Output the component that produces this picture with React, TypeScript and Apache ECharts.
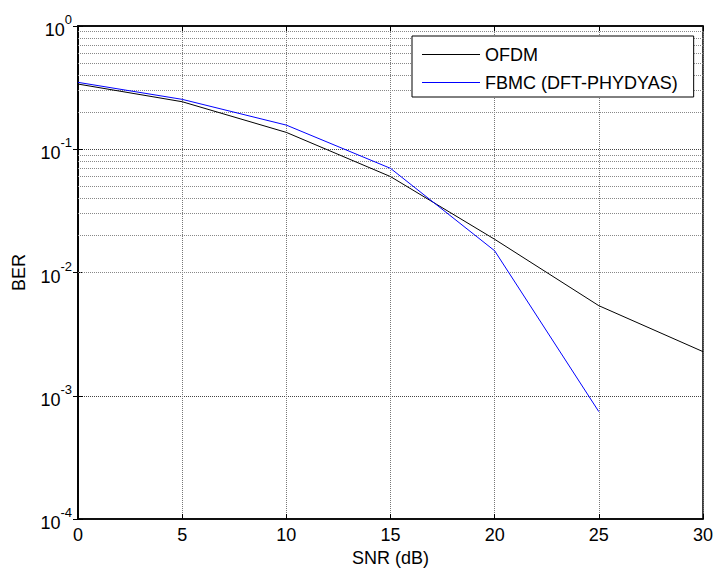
import React, { useEffect, useRef } from "react";
import * as echarts from "echarts";

const snr = [0, 5, 10, 15, 20, 25, 30];
const ofdmBer = [0.338, 0.243, 0.137, 0.06, 0.0186, 0.00538, 0.00228];
const fbmcBer = [0.349, 0.254, 0.157, 0.07, 0.015, 0.000743];
const seriesNames = ["OFDM", "FBMC (DFT-PHYDYAS)"];
const seriesColors = ["#000000", "#0000ff"];
const yExponents = ["0", "-1", "-2", "-3", "-4"];

const FONT = "Liberation Sans, Arial, sans-serif";

const minorGrid: number[] = [];
for (let e = -4; e < 0; e++) {
  for (let m = 2; m <= 9; m++) minorGrid.push(m * Math.pow(10, e));
}

function expLabel(v: number) {
  const e = Math.round(Math.log10(v));
  const s = yExponents.find((x) => Number(x) === e) ?? String(e);
  return `{b|10}{s|${s}}`;
}

export default function App() {
  const ref = useRef<HTMLDivElement>(null);
  useEffect(() => {
    if (!ref.current) return;
    const chart = echarts.init(ref.current, undefined, { renderer: "svg" });
    const grid = { left: 78, right: 13, top: 26, bottom: 53 };
    chart.setOption({
      animation: false,
      backgroundColor: "#fff",
      color: seriesColors,
      textStyle: { fontFamily: FONT },
      grid: { ...grid, show: true, borderColor: "#000", borderWidth: 1.5, backgroundColor: "transparent" },
      legend: {
        orient: "vertical",
        left: 412,
        top: 36,
        padding: [9, 16, 5, 10],
        icon: "rect",
        itemWidth: 58,
        itemHeight: 1,
        itemGap: 9,
        backgroundColor: "#fff",
        borderColor: "#000",
        borderWidth: 1,
        borderRadius: 0,
        textStyle: { fontSize: 18, color: "#000", fontFamily: FONT, lineHeight: 19 },
        data: seriesNames.map((n, i) => ({ name: n, itemStyle: { color: seriesColors[i] } })),
      },
      xAxis: [
        {
          type: "value",
          min: 0,
          max: 30,
          interval: 5,
          name: "SNR (dB)",
          nameLocation: "middle",
          nameGap: 29,
          nameTextStyle: { fontSize: 18, color: "#000", fontFamily: FONT },
          axisLine: { show: true, onZero: false, lineStyle: { color: "#000", width: 1.5 } },
          axisTick: { show: true, inside: true, length: 5, lineStyle: { color: "#000" } },
          axisLabel: { fontSize: 18, color: "#000", margin: 7, fontFamily: FONT },
          splitLine: { show: true, lineStyle: { color: "#777", type: "dotted", width: 1 } },
        },
        {
          type: "value",
          position: "top",
          min: 0,
          max: 30,
          interval: 5,
          axisLine: { show: true, lineStyle: { color: "#000", width: 1.5 } },
          axisTick: { show: true, inside: true, length: 5, lineStyle: { color: "#000" } },
          axisLabel: { show: false },
          splitLine: { show: false },
        },
      ],
      yAxis: [
        {
          type: "log",
          logBase: 10,
          min: 1e-4,
          max: 1,
          name: "BER",
          nameLocation: "middle",
          nameRotate: 90,
          nameGap: 50,
          nameTextStyle: { fontSize: 18, color: "#000", fontFamily: FONT },
          axisLine: { show: true, onZero: false, lineStyle: { color: "#000", width: 1.5 } },
          axisTick: { show: true, inside: true, length: 5, lineStyle: { color: "#000" } },
          axisLabel: {
            color: "#000",
            margin: 6,
            formatter: (v: number) => expLabel(v),
            rich: {
              b: { fontSize: 18, fontFamily: FONT, color: "#000", verticalAlign: "bottom", lineHeight: 26 },
              s: { fontSize: 13, fontFamily: FONT, color: "#000", verticalAlign: "top", lineHeight: 26 },
            },
          },
          splitLine: { show: true, lineStyle: { color: "#444", type: "dotted", width: 1 } },
        },
        {
          type: "log",
          logBase: 10,
          min: 1e-4,
          max: 1,
          position: "right",
          axisLine: { show: true, lineStyle: { color: "#000", width: 1.5 } },
          axisTick: { show: true, inside: true, length: 5, lineStyle: { color: "#000" } },
          axisLabel: { show: false },
          splitLine: { show: false },
        },
      ],
      series: [
        {
          name: seriesNames[0],
          type: "line",
          symbol: "none",
          data: snr.map((x, i) => [x, ofdmBer[i]]),
          lineStyle: { color: seriesColors[0], width: 1 },
          itemStyle: { color: seriesColors[0] },
          z: 3,
          markLine: {
            silent: true,
            symbol: "none",
            label: { show: false },
            lineStyle: { color: "#888", type: "dotted", width: 1 },
            data: minorGrid.map((v) => ({ yAxis: v })),
            z: 1,
          },
        },
        {
          name: seriesNames[1],
          type: "line",
          symbol: "none",
          data: fbmcBer.map((y, i) => [snr[i], y]),
          lineStyle: { color: seriesColors[1], width: 1 },
          itemStyle: { color: seriesColors[1] },
          z: 3,
        },
      ],
    });
    return () => chart.dispose();
  }, []);
  return (
    <div
      ref={ref}
      style={{ position: "fixed", left: 0, top: 0, width: 716, height: 572 }}
    />
  );
}
